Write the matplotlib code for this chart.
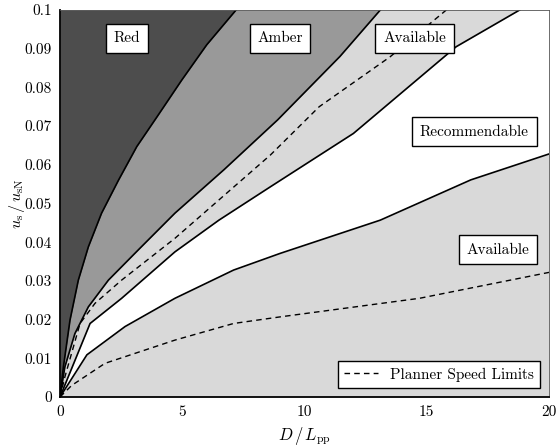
import matplotlib
matplotlib.use("Agg")
import matplotlib.pyplot as plt
import numpy as np

plt.rcParams['font.family'] = 'serif'
plt.rcParams['font.serif'] = ['cmr10']
plt.rcParams['mathtext.fontset'] = 'cm'
plt.rcParams['axes.formatter.use_mathtext'] = True

# zone boundaries, u_s/u_sN against D/L_pp
red_x = [0, 0.14, 0.41, 0.75, 1.16, 1.7, 2.39, 3.14, 4.0, 4.98, 6.0, 7.2]
red_y = [0, 0.0078, 0.0199, 0.0302, 0.0388, 0.0475, 0.056, 0.0647, 0.0727, 0.0819, 0.091, 0.1]

amber_x = [0, 0.2, 0.61, 1.16, 1.98, 3.2, 4.7, 6.7, 8.9, 11.45, 13.1]
amber_y = [0, 0.0078, 0.0164, 0.0233, 0.0302, 0.038, 0.0475, 0.0587, 0.0716, 0.088, 0.1]

upper_x = [0, 1.23, 2.52, 4.7, 6.5, 8.6, 12.0, 16.2, 18.8]
upper_y = [0, 0.019, 0.0255, 0.0375, 0.0457, 0.0543, 0.0681, 0.0905, 0.1]

lower_x = [0, 1.1, 2.66, 4.7, 7.1, 9.0, 13.1, 16.8, 20]
lower_y = [0, 0.0109, 0.0182, 0.0255, 0.0328, 0.0371, 0.0457, 0.0561, 0.0628]

# planner speed limits
plan_hi_x = [0, 0.2, 0.82, 1.43, 2.52, 4.7, 8.6, 10.6, 13.5, 15.8]
plan_hi_y = [0, 0.0052, 0.019, 0.0242, 0.0302, 0.041, 0.0625, 0.075, 0.0879, 0.1]

plan_lo_x = [0, 0.48, 1.84, 4.7, 7.1, 9.0, 14.7, 20]
plan_lo_y = [0, 0.003, 0.0087, 0.0147, 0.019, 0.0207, 0.0255, 0.0322]

fig = plt.figure(figsize=(5.58, 4.48), dpi=100)
ax = fig.add_axes([60 / 558, 51 / 448, 489 / 558, 387 / 448])
ax.set_facecolor('#d9d9d9')

# paint from the bottom band upwards
ax.fill_between(lower_x, lower_y, 0.1, color='white', lw=0)
ax.fill_between(upper_x, upper_y, 0.1, color='#d9d9d9', lw=0)
ax.fill_between(amber_x, amber_y, 0.1, color='#999999', lw=0)
ax.fill_between(red_x, red_y, 0.1, color='#4d4d4d', lw=0)

for bx, by in [(red_x, red_y), (amber_x, amber_y), (upper_x, upper_y), (lower_x, lower_y)]:
    ax.plot(bx, by, color='black', lw=1.2)

ax.plot(plan_hi_x, plan_hi_y, color='black', lw=1.0, ls=(0, (4, 3)),
        label='Planner Speed Limits')
ax.plot(plan_lo_x, plan_lo_y, color='black', lw=1.0, ls=(0, (4, 3)))

box = dict(boxstyle='square,pad=0.5', fc='white', ec='black', lw=1.0)
ax.text(2.75, 0.0927, 'Red', ha='center', va='center', fontsize=11, bbox=box)
ax.text(9.0, 0.0927, 'Amber', ha='center', va='center', fontsize=11, bbox=box)
ax.text(14.5, 0.0927, 'Available', ha='center', va='center', fontsize=11, bbox=box)
ax.text(16.95, 0.0685, 'Recommendable', ha='center', va='center', fontsize=11, bbox=box)
ax.text(17.9, 0.038, 'Available', ha='center', va='center', fontsize=11, bbox=box)

leg = ax.legend(loc='lower right', fontsize=11, fancybox=False, framealpha=1,
                edgecolor='black', handlelength=2.2, borderaxespad=0.6)
leg.get_frame().set_linewidth(1.0)

ax.set_xlim(0, 20)
ax.set_ylim(0, 0.1)
ax.set_xticks([0, 5, 10, 15, 20])
ax.set_xticklabels(['0', '5', '10', '15', '20'])
ax.set_yticks(np.arange(0, 0.101, 0.01))
ax.set_yticklabels(['0'] + ['%.2f' % v for v in np.arange(0.01, 0.095, 0.01)] + ['0.1'])
ax.tick_params(length=0, labelsize=11, pad=6)

ax.spines['left'].set_linewidth(1.3)
ax.spines['bottom'].set_linewidth(1.3)
for s in ['top', 'right']:
    ax.spines[s].set_color('#555555')
    ax.spines[s].set_linewidth(0.6)

ax.set_xlabel(r'$D\,/\,L_\mathrm{pp}$', fontsize=12)
ax.set_ylabel(r'$u_\mathrm{s}\,/\,u_\mathrm{sN}$', fontsize=11.5)
ax.yaxis.set_label_coords(-0.068, 0.5)

plt.savefig('out.png', dpi=100)
plt.close()
